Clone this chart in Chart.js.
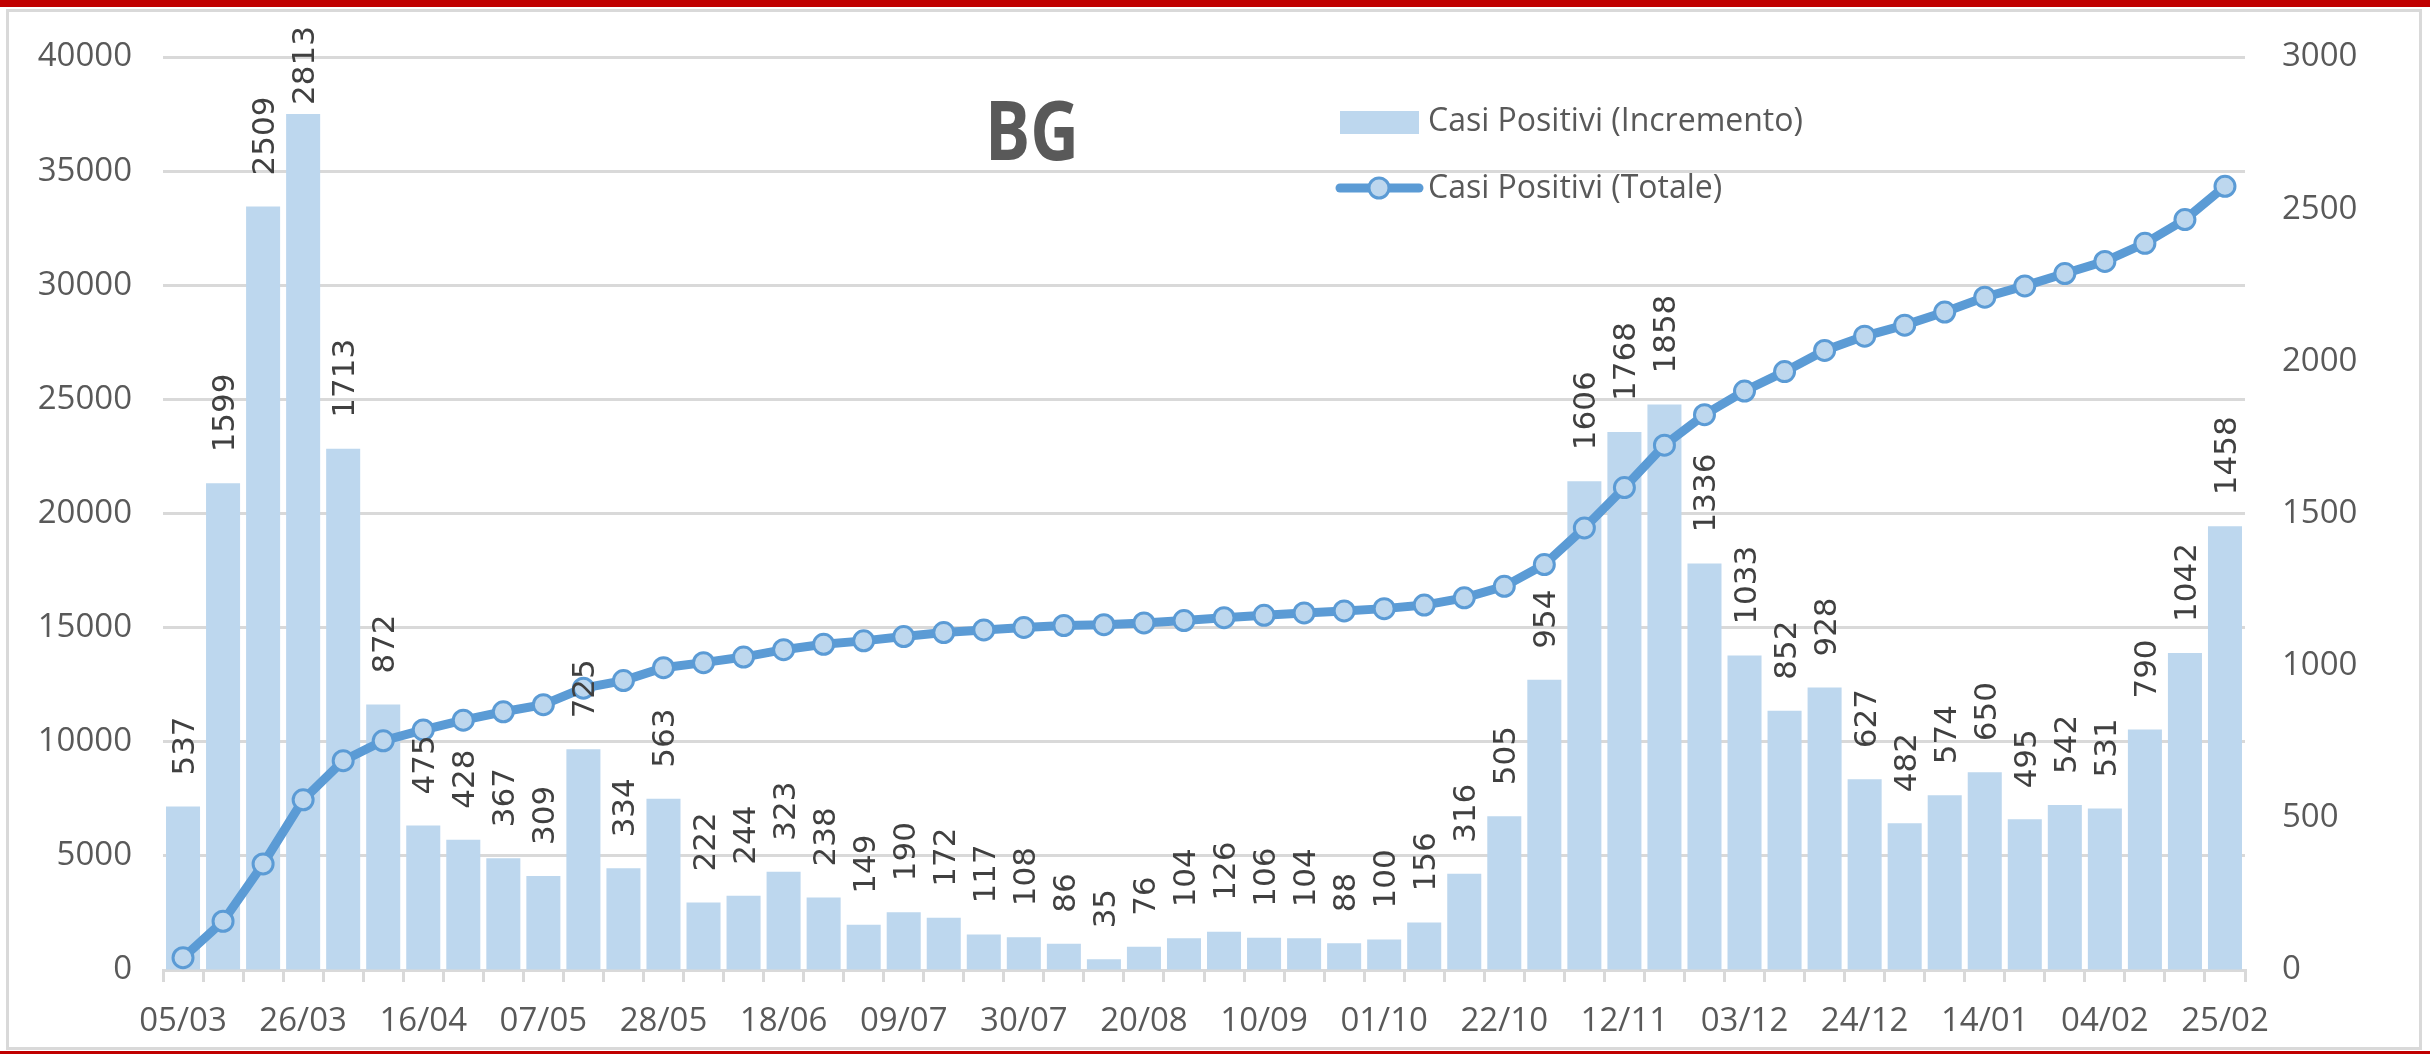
<!DOCTYPE html>
<html>
<head>
<meta charset="utf-8">
<script src="https://cdn.jsdelivr.net/npm/chart.js@4.4.1/dist/chart.umd.min.js"></script>
<style>
  body { margin: 0; background: #fff; }
  .redbar { position: absolute; left: 0; width: 2430px; background: #C00000; }
  #frame { position: absolute; left: 6px; top: 9px; width: 2416px; height: 1041px; border: 3px solid #d9d9d9; box-sizing: border-box; }
  #chart { position: absolute; left: 0; top: 0; }
</style>
</head>
<body>
<div class="redbar" style="top:0;height:7px"></div>
<div id="frame"></div>
<div class="redbar" style="top:1051px;height:3px"></div>
<canvas id="chart" width="2430" height="1054"></canvas>
<script>
// weekly dates, one label every 3 weeks shown on the axis
const weeks = ['05/03','12/03','19/03','26/03','02/04','09/04','16/04','23/04','30/04','07/05',
  '14/05','21/05','28/05','04/06','11/06','18/06','25/06','02/07','09/07','16/07',
  '23/07','30/07','06/08','13/08','20/08','27/08','03/09','10/09','17/09','24/09',
  '01/10','08/10','15/10','22/10','29/10','05/11','12/11','19/11','26/11','03/12',
  '10/12','17/12','24/12','31/12','07/01','14/01','21/01','28/01','04/02','11/02',
  '18/02','25/02'];

// Casi Positivi (Incremento) - right axis
const increments = [537, 1599, 2509, 2813, 1713, 872, 475, 428, 367, 309,
  725, 334, 563, 222, 244, 323, 238, 149, 190, 172,
  117, 108, 86, 35, 76, 104, 126, 106, 104, 88,
  100, 156, 316, 505, 954, 1606, 1768, 1858, 1336, 1033,
  852, 928, 627, 482, 574, 650, 495, 542, 531, 790,
  1042, 1458];

// Casi Positivi (Totale) - left axis
const totals = [537, 2136, 4645, 7458, 9171, 10043, 10518, 10946, 11313, 11622,
  12347, 12681, 13244, 13466, 13710, 14033, 14271, 14420, 14610, 14782,
  14899, 15007, 15093, 15128, 15204, 15308, 15434, 15540, 15644, 15732,
  15832, 15988, 16304, 16809, 17763, 19369, 21137, 22995, 24331, 25364,
  26216, 27144, 27771, 28253, 28827, 29477, 29972, 30514, 31045, 31835,
  32877, 34335];

const leftTicks = { min: 0, max: 40000, step: 5000 };
const rightTicks = { min: 0, max: 3000, step: 500 };

const BAR_COLOR = '#BDD7EE';
const LINE_COLOR = '#5B9BD5';
const TEXT_COLOR = '#595959';

Chart.defaults.font.family = '"Open Sans", sans-serif';
Chart.defaults.color = TEXT_COLOR;

// rotated value labels above the bars, kept inside the frame like excel does
const barLabels = {
  id: 'barLabels',
  afterDatasetsDraw(chart) {
    const meta = chart.getDatasetMeta(0);
    const ctx = chart.ctx;
    ctx.save();
    ctx.font = '31px "DejaVu Sans"';
    ctx.fillStyle = '#404040';
    ctx.textAlign = 'left';
    ctx.textBaseline = 'alphabetic';
    meta.data.forEach((bar, i) => {
      const txt = String(increments[i]);
      const w = ctx.measureText(txt).width;
      const start = Math.max(bar.y - 31, 26 + w);
      ctx.save();
      ctx.translate(bar.x, start);
      ctx.rotate(-Math.PI / 2);
      ctx.fillText(txt, 0, 11);
      ctx.restore();
    });
    ctx.restore();
  }
};

const titleAndLegend = {
  id: 'titleAndLegend',
  afterDraw(chart) {
    const ctx = chart.ctx;
    ctx.save();
    // title
    ctx.fillStyle = TEXT_COLOR;
    ctx.font = 'bold 82px "Open Sans"';
    ctx.textAlign = 'center';
    ctx.textBaseline = 'middle';
    ctx.translate(1032, 137);
    ctx.scale(0.82, 1);
    ctx.fillText('BG', 0, 0);
    ctx.restore();

    ctx.save();
    ctx.font = '32px "Open Sans"';
    ctx.textBaseline = 'middle';
    ctx.textAlign = 'left';
    // bar item
    ctx.fillStyle = BAR_COLOR;
    ctx.fillRect(1340, 111, 79, 23);
    ctx.fillStyle = TEXT_COLOR;
    ctx.fillText(chart.data.datasets[0].label, 1428, 122);
    // line item
    ctx.strokeStyle = LINE_COLOR;
    ctx.lineWidth = 9;
    ctx.lineCap = 'round';
    ctx.beginPath();
    ctx.moveTo(1340, 188);
    ctx.lineTo(1419, 188);
    ctx.stroke();
    ctx.beginPath();
    ctx.arc(1379, 188, 10, 0, Math.PI * 2);
    ctx.fillStyle = BAR_COLOR;
    ctx.fill();
    ctx.lineWidth = 3;
    ctx.stroke();
    ctx.fillStyle = TEXT_COLOR;
    ctx.fillText(chart.data.datasets[1].label, 1428, 189);
    ctx.restore();
  }
};

new Chart(document.getElementById('chart'), {
  data: {
    labels: weeks,
    datasets: [
      {
        type: 'bar',
        label: 'Casi Positivi (Incremento)',
        data: increments,
        yAxisID: 'y1',
        backgroundColor: BAR_COLOR,
        barPercentage: 1,
        categoryPercentage: 0.85,
        order: 2
      },
      {
        type: 'line',
        label: 'Casi Positivi (Totale)',
        data: totals,
        yAxisID: 'y',
        borderColor: LINE_COLOR,
        borderWidth: 9,
        tension: 0,
        pointRadius: 10,
        pointBorderWidth: 3,
        pointBackgroundColor: BAR_COLOR,
        pointBorderColor: LINE_COLOR,
        order: 1
      }
    ]
  },
  options: {
    responsive: false,
    animation: false,
    devicePixelRatio: 1,
    layout: { padding: { top: 57, left: 0, right: 0, bottom: 0 } },
    plugins: { legend: { display: false }, tooltip: { enabled: false } },
    scales: {
      x: {
        offset: true,
        grid: { offset: true, drawOnChartArea: false, drawTicks: true, tickLength: 12, color: '#d9d9d9', lineWidth: 3 },
        border: { display: true, color: '#d9d9d9', width: 3 },
        ticks: {
          autoSkip: false, maxRotation: 0, minRotation: 0, padding: 20,
          font: { size: 33 }, color: TEXT_COLOR,
          callback: (v, i) => (i % 3 === 0 ? weeks[i] : '')
        },
        afterFit: s => { s.height = 84; }
      },
      y: {
        position: 'left',
        min: leftTicks.min, max: leftTicks.max,
        grid: { color: '#d9d9d9', lineWidth: 3, drawTicks: false },
        border: { display: false },
        ticks: { stepSize: leftTicks.step, padding: 31, font: { size: 33 }, color: TEXT_COLOR, callback: v => String(v) },
        afterFit: s => { s.width = 163; }
      },
      y1: {
        position: 'right',
        min: rightTicks.min, max: rightTicks.max,
        grid: { drawOnChartArea: false, drawTicks: false },
        border: { display: false },
        ticks: { stepSize: rightTicks.step, padding: 37, font: { size: 33 }, color: TEXT_COLOR, callback: v => String(v) },
        afterFit: s => { s.width = 185; }
      }
    }
  },
  plugins: [barLabels, titleAndLegend]
});
</script>
</body>
</html>
